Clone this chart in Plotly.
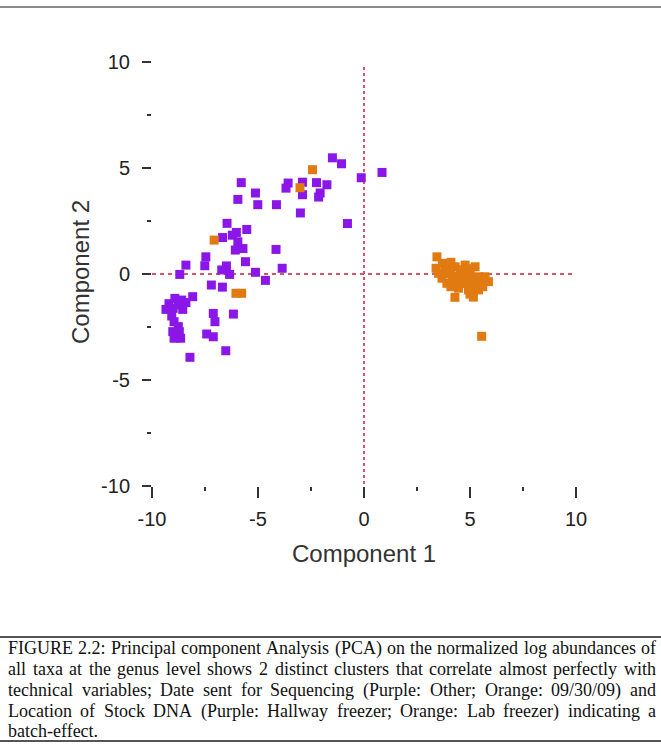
import plotly.graph_objects as go

# ---------------- data ----------------
purple_x = [-1.49, -1.06, -0.13, 0.85, -5.79, -5.12, -5.95, -5.01, -4.13, -3.58,
            -3.68, -2.90, -2.90, -2.24, -1.75, -2.07, -2.14, -3.00, -0.78, -6.46,
            -5.53, -6.02, -6.21, -6.67, -5.95, -5.71, -6.07, -4.15, -5.59, -7.46,
            -7.51, -8.40, -8.69, -6.49, -6.71, -6.34, -5.12, -3.86, -4.65, -7.20,
            -6.68, -8.08, -8.92, -8.60, -8.40, -9.34, -9.00, -8.55, -9.07, -8.96,
            -8.76, -9.02, -8.71, -8.96, -8.65, -7.11, -7.03, -6.16, -7.42, -7.11,
            -6.52, -8.21, -9.20, -8.75]
purple_y = [5.48, 5.20, 4.54, 4.79, 4.31, 3.82, 3.52, 3.27, 3.27, 4.29,
            4.05, 4.33, 3.74, 4.31, 4.21, 3.82, 3.63, 2.88, 2.38, 2.39,
            2.10, 1.96, 1.83, 1.72, 1.52, 1.20, 1.13, 1.16, 0.58, 0.81,
            0.39, 0.42, -0.02, 0.38, 0.19, -0.02, 0.08, 0.27, -0.30, -0.52,
            -0.62, -1.07, -1.15, -1.23, -1.35, -1.67, -1.62, -1.67, -1.98, -2.25,
            -2.48, -2.72, -2.72, -3.03, -3.03, -1.86, -2.25, -1.89, -2.83, -2.96,
            -3.62, -3.93, -1.40, -1.45]

orange_x = [-2.43, -3.02, -7.07, -6.04, -5.77, 3.44, 3.40, 3.83, 4.30, 4.77,
            4.07, 4.54, 5.01, 5.40, 3.68, 4.15, 4.62, 5.08, 5.55, 5.87,
            4.46, 4.93, 5.40, 5.16, 4.29, 5.55, 3.52, 3.91, 5.24, 5.71,
            4.00, 4.80, 5.20, 4.35, 3.70, 4.10, 4.60, 4.90, 5.30, 4.40,
            4.75, 5.00, 4.10, 3.85, 5.60, 5.00]
orange_y = [4.92, 4.07, 1.60, -0.91, -0.91, 0.81, 0.27, 0.42, 0.34, 0.42,
            0.03, 0.03, 0.03, -0.13, -0.20, -0.28, -0.36, -0.36, -0.44, -0.36,
            -0.67, -0.75, -0.75, -1.09, -1.10, -2.94, 0.03, -0.44, 0.34, -0.13,
            0.20, -0.20, -0.55, -0.50, 0.50, 0.55, 0.20, 0.25, -0.30, -0.10,
            -0.45, -0.95, -0.60, 0.10, -0.60, -0.60]

tick_vals = [-10, -5, 0, 5, 10]
tick_text = ["-10", "-5", "0", "5", "10"]

caption_lines = [
    "FIGURE 2.2: Principal component Analysis (PCA) on the normalized log abundances of",
    "all taxa at the genus level shows 2 distinct clusters that correlate almost perfectly with",
    "technical variables; Date sent for Sequencing (Purple: Other; Orange: 09/30/09) and",
    "Location of Stock DNA (Purple: Hallway freezer; Orange: Lab freezer) indicating a",
    "batch-effect.",
]

# ---------------- layout geometry ----------------
W, H = 661, 751
L, R, T, B = 152, 576, 62, 486   # plot-area pixel bounds
PW, PH = R - L, B - T

def px2x(px):
    return (px - L) / PW

def px2y(py):
    return (B - py) / PH

PURPLE = "#8A16E8"
ORANGE = "#E27A12"
DASH = "#D9536B"
TICKC = "#333333"

fig = go.Figure()
fig.add_trace(go.Scatter(x=purple_x, y=purple_y, mode="markers",
                         marker=dict(symbol="square", size=9, color=PURPLE),
                         showlegend=False, hoverinfo="skip"))
fig.add_trace(go.Scatter(x=orange_x, y=orange_y, mode="markers",
                         marker=dict(symbol="square", size=9, color=ORANGE),
                         showlegend=False, hoverinfo="skip"))

shapes = [
    dict(type="line", xref="x", yref="y", x0=-10, x1=10, y0=0, y1=0,
         line=dict(color=DASH, width=2, dash="4px,4px"), layer="below"),
    dict(type="line", xref="x", yref="y", x0=0, x1=0, y0=-9.9, y1=9.9,
         line=dict(color=DASH, width=2, dash="3px,3px"), layer="below"),
    # page rule at top
    dict(type="line", xref="paper", yref="paper", x0=px2x(0), x1=px2x(W),
         y0=px2y(7), y1=px2y(7), line=dict(color="#8a8a8a", width=2)),
    # caption box rules
    dict(type="line", xref="paper", yref="paper", x0=px2x(0), x1=px2x(W),
         y0=px2y(637), y1=px2y(637), line=dict(color="#555555", width=2)),
    dict(type="line", xref="paper", yref="paper", x0=px2x(0), x1=px2x(W),
         y0=px2y(741), y1=px2y(741), line=dict(color="#555555", width=2)),
]

# Times-Roman advance widths (per 1000 em) for justification
TW = {' ': 250, '!': 333, '(': 333, ')': 333, ',': 250, '-': 333, '.': 250, '/': 278,
      ':': 278, ';': 278}
for d in "0123456789":
    TW[d] = 500
TW.update(dict(A=722, B=667, C=667, D=722, E=611, F=556, G=722, H=722, I=333, J=389,
               K=722, L=611, M=889, N=722, O=722, P=556, Q=722, R=667, S=556, T=611,
               U=722, V=722, W=944, X=722, Y=722, Z=611))
TW.update(dict(a=444, b=500, c=444, d=500, e=444, f=333, g=500, h=500, i=278, j=278,
               k=500, l=278, m=778, n=500, o=500, p=500, q=500, r=333, s=389, t=278,
               u=500, v=500, w=722, x=500, y=500, z=444))

CAP_FS = 18
CAP_LEFT, CAP_RIGHT = 7, 655
line_y = [648, 669, 690, 711, 731]
CAP_FONT = dict(family="Liberation Serif, Times New Roman, serif", size=CAP_FS, color="#111111")

def wwidth(w):
    return sum(TW.get(ch, 500) for ch in w) / 1000 * CAP_FS

annotations = []
for i, (text, yy) in enumerate(zip(caption_lines, line_y)):
    words = text.split(" ")
    if i == len(caption_lines) - 1 or len(words) == 1:
        annotations.append(dict(x=px2x(CAP_LEFT), y=px2y(yy), xref="paper", yref="paper",
                                text=text, showarrow=False, xanchor="left", yanchor="middle",
                                font=CAP_FONT))
        continue
    widths = [wwidth(w) for w in words]
    gap = (CAP_RIGHT - CAP_LEFT - sum(widths)) / (len(words) - 1)
    cx = CAP_LEFT
    for w, wd in zip(words, widths):
        annotations.append(dict(x=px2x(cx), y=px2y(yy), xref="paper", yref="paper",
                                text=w, showarrow=False, xanchor="left", yanchor="middle",
                                font=CAP_FONT))
        cx += wd + gap

# axis titles
annotations.append(dict(x=px2x(364), y=px2y(553), xref="paper", yref="paper",
                        text="Component 1", showarrow=False, xanchor="center", yanchor="middle",
                        font=dict(family="Liberation Sans, Arial, sans-serif", size=24, color="#333333")))
annotations.append(dict(x=px2x(80), y=px2y(272), xref="paper", yref="paper",
                        text="Component 2", showarrow=False, xanchor="center", yanchor="middle",
                        textangle=-90,
                        font=dict(family="Liberation Sans, Arial, sans-serif", size=24, color="#333333")))

for a in annotations:
    a["borderpad"] = 0

axis_common = dict(range=[-10, 10], showgrid=False, zeroline=False, showline=False,
                   tickmode="array", tickvals=tick_vals, ticktext=tick_text,
                   ticks="outside", tickwidth=2, tickcolor=TICKC,
                   tickfont=dict(family="Liberation Sans, Arial, sans-serif", size=20, color="#222222"),
                   minor=dict(tickmode="array", tickvals=[-7.5, -2.5, 2.5, 7.5], ticks="outside",
                              ticklen=4, tickwidth=2, tickcolor=TICKC),
                   fixedrange=True)

fig.update_layout(
    width=W, height=H,
    margin=dict(l=L, r=W - R, t=T, b=H - B, pad=0),
    paper_bgcolor="white", plot_bgcolor="white",
    xaxis=dict(axis_common, ticklen=11, ticklabelstandoff=4),
    yaxis=dict(axis_common, ticklen=9, ticklabelstandoff=8),
    shapes=shapes, annotations=annotations,
    showlegend=False,
)

fig.write_html("out.html")
